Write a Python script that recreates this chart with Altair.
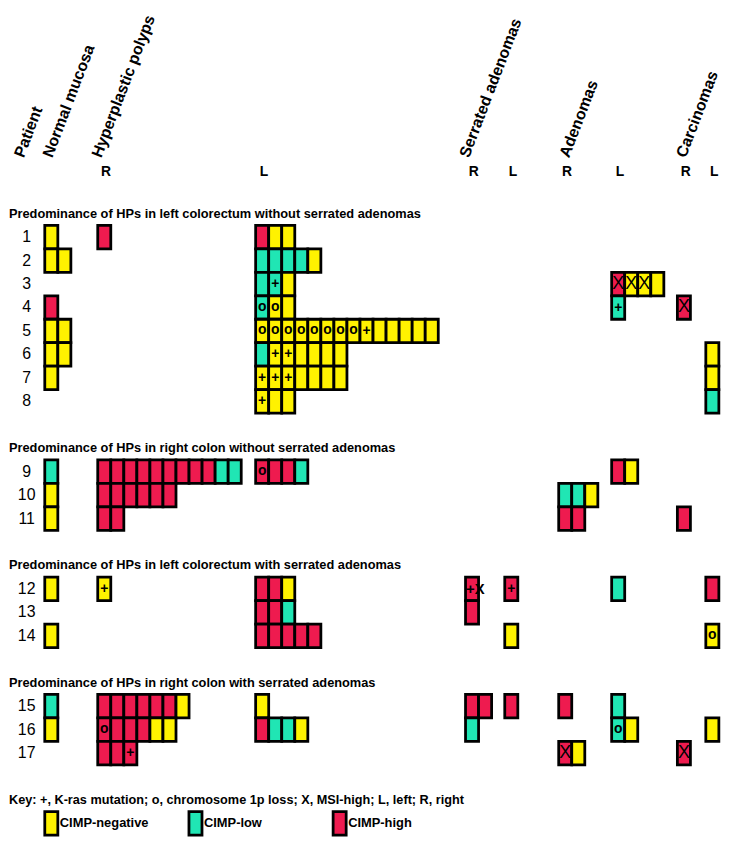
import altair as alt
import pandas as pd

# ---------------- data ----------------
patients = list(range(1, 18))
group_titles = [
    "Predominance of HPs in left colorectum without serrated adenomas",
    "Predominance of HPs in right colon without serrated adenomas",
    "Predominance of HPs in left colorectum with serrated adenomas",
    "Predominance of HPs in right colon with serrated adenomas",
]
group_sizes = [8, 3, 3, 3]
header_texts = ["Patient", "Normal mucosa", "Hyperplastic polyps",
                "Serrated adenomas", "Adenomas", "Carcinomas"]
column_keys = ["NM", "HPR", "HPL", "SAR", "SAL", "ADR", "ADL", "CAR", "CAL"]
side_labels = ["", "R", "L", "R", "L", "R", "L", "R", "L"]
key_text = "Key: +, K-ras mutation; o, chromosome 1p loss; X, MSI-high; L, left; R, right"
status_codes = ["Y", "T", "R"]
status_names = ["CIMP-negative", "CIMP-low", "CIMP-high"]
status_colors = ["#FFF200", "#20E6B4", "#EE1B4F"]

# one string per patient 1..17; token = status code + optional marker(s)
normal_mucosa = ["Y", "Y Y", "", "R", "Y Y", "Y Y", "Y", "", "T", "Y", "Y", "Y", "", "Y", "T", "Y", ""]
hp_right = ["R", "", "", "", "", "", "", "", "R R R R R R R R R T T", "R R R R R R", "R R",
            "Y+", "", "", "R R R R R R Y", "Ro R R R Y Y", "R R R+"]
hp_left = ["R Y Y", "T T T T Y", "T T+ Y", "To Yo Y", "Yo Yo Yo Yo Yo Yo Yo Yo Y+ Y Y Y Y Y",
           "T Y+ Y+ Y Y Y Y", "Y+ Y+ Y+ Y Y Y Y", "Y+ Y Y", "Ro R R T", "", "",
           "R R Y", "R R T", "R R R R R", "Y", "R T T Y", ""]
serrated_right = ["", "", "", "", "", "", "", "", "", "", "", "R+X", "R", "", "R R", "T", ""]
serrated_left = ["", "", "", "", "", "", "", "", "", "", "", "R+", "", "Y", "R", "", ""]
adenoma_right = ["", "", "", "", "", "", "", "", "", "T T Y", "R R", "", "", "", "R", "", "RX Y"]
adenoma_left = ["", "", "RX YX YX Y", "T+", "", "", "", "", "R Y", "", "", "T", "", "", "T", "To Y", ""]
carcinoma_right = ["", "", "", "RX", "", "", "", "", "", "", "R", "", "", "", "", "", "RX"]
carcinoma_left = ["", "", "", "", "", "Y", "Y", "T", "", "", "", "R", "", "Yo", "", "Y", ""]

column_data = [normal_mucosa, hp_right, hp_left, serrated_right, serrated_left,
               adenoma_right, adenoma_left, carcinoma_right, carcinoma_left]

# ---------------- layout (positions in page pixels) ----------------
W, H = 720, 832
X_DOMAIN = [2, 730]
Y_DOMAIN = [3, 851]
CW, PITCH, Y0 = 13.3, 24.1, 235
col_left = [39.5, 93.5, 254.5, 468.5, 508.5, 563.5, 617.5, 684.5, 713.5]
header_x = [18, 47, 97, 472, 574, 693]
header_y = 154
side_y = 168
rownum_x = 21
text_x = 3
legend_box_x = [39.5, 186.5, 333.5]

name_of = dict(zip(status_codes, status_names))

# slots
row_slot = {}
title_slot = []
slot = 0
p = 0
for n in group_sizes:
    title_slot.append(slot - 1)
    for k in range(n):
        row_slot[patients[p]] = slot + k
        p += 1
    slot += n + 2
key_slot = slot - 1
legend_slot = slot


def yc(s):
    return Y0 + s * PITCH


cell_rows, mark_rows = [], []
for ci, col in enumerate(column_data):
    for pi, entry in enumerate(col):
        pat = patients[pi]
        for i, tok in enumerate(entry.split()):
            x = col_left[ci] + i * CW
            y = yc(row_slot[pat])
            cell_rows.append(dict(x=x, x2=x + CW, y=y - PITCH / 2, y2=y + PITCH / 2,
                                  status=name_of[tok[0]]))
            m = tok[1:]
            if m:
                mark_rows.append(dict(x=x + CW / 2, xl=x + 0.5, y=y, m=m))

cells = pd.DataFrame(cell_rows)
marks = pd.DataFrame(mark_rows)

xs = alt.Scale(domain=X_DOMAIN, nice=False, zero=False)
ys = alt.Scale(domain=Y_DOMAIN, nice=False, zero=False, reverse=True)
color = alt.Color("status:N", scale=alt.Scale(domain=status_names, range=status_colors), legend=None)

FONT = "Liberation Sans"
SW = 2.8

rects = alt.Chart(cells).mark_rect(stroke="black", strokeWidth=SW).encode(
    x=alt.X("x:Q", scale=xs, axis=None), x2="x2:Q",
    y=alt.Y("y:Q", scale=ys, axis=None), y2="y2:Q",
    color=color,
)

def marker_layer(df, font_size, weight, align, xfield, dy=0):
    return alt.Chart(df).mark_text(fontSize=font_size, fontWeight=weight, font=FONT,
                                   align=align, baseline="middle", color="black", dy=dy).encode(
        x=alt.X(f"{xfield}:Q", scale=xs, axis=None),
        y=alt.Y("y:Q", scale=ys, axis=None),
        text="m:N",
    )

m_plus = marker_layer(marks[marks.m == "+"], 14, "bold", "center", "x")
m_o = marker_layer(marks[marks.m == "o"], 14, "bold", "center", "x", dy=-1)
m_x = marker_layer(marks[marks.m == "X"], 18, "normal", "center", "x")
m_multi = marker_layer(marks[marks.m.str.len() > 1], 15, "bold", "left", "xl")

headers = pd.DataFrame(dict(t=header_texts, x=header_x, y=[header_y] * len(header_texts)))
header_layer = alt.Chart(headers).mark_text(angle=291, align="left", baseline="alphabetic",
                                            fontSize=16, fontWeight="bold", font=FONT).encode(
    x=alt.X("x:Q", scale=xs, axis=None), y=alt.Y("y:Q", scale=ys, axis=None), text="t:N")

sides = pd.DataFrame(dict(t=side_labels[1:], x=[c + 8.5 for c in col_left[1:]],
                          y=[side_y] * 8))
side_layer = alt.Chart(sides).mark_text(fontSize=14, fontWeight="bold", font=FONT,
                                        baseline="middle").encode(
    x=alt.X("x:Q", scale=xs, axis=None), y=alt.Y("y:Q", scale=ys, axis=None), text="t:N")

titles = pd.DataFrame(dict(t=group_titles, x=[text_x] * 4,
                           y=[yc(s) for s in title_slot]))
title_layer = alt.Chart(titles).mark_text(fontSize=12.9, fontWeight="bold", font=FONT,
                                          align="left", baseline="middle").encode(
    x=alt.X("x:Q", scale=xs, axis=None), y=alt.Y("y:Q", scale=ys, axis=None), text="t:N")

keys = pd.DataFrame(dict(t=[key_text], x=[text_x], y=[yc(key_slot)]))
key_layer = alt.Chart(keys).mark_text(fontSize=12.8, fontWeight="bold", font=FONT,
                                      align="left", baseline="middle").encode(
    x=alt.X("x:Q", scale=xs, axis=None), y=alt.Y("y:Q", scale=ys, axis=None), text="t:N")

rownums = pd.DataFrame(dict(t=[str(p) for p in patients], x=[rownum_x] * 17,
                            y=[yc(row_slot[p]) for p in patients]))
rownum_layer = alt.Chart(rownums).mark_text(fontSize=16, font=FONT, align="center",
                                            baseline="middle").encode(
    x=alt.X("x:Q", scale=xs, axis=None), y=alt.Y("y:Q", scale=ys, axis=None), text="t:N")

ly = yc(legend_slot)
legend_df = pd.DataFrame(dict(status=status_names, x=legend_box_x,
                              x2=[v + CW for v in legend_box_x],
                              y=[ly - PITCH / 2] * 3, y2=[ly + PITCH / 2] * 3,
                              lx=[v + CW + 2 for v in legend_box_x], ym=[ly] * 3))
legend_boxes = alt.Chart(legend_df).mark_rect(stroke="black", strokeWidth=SW).encode(
    x=alt.X("x:Q", scale=xs, axis=None), x2="x2:Q",
    y=alt.Y("y:Q", scale=ys, axis=None), y2="y2:Q", color=color)
legend_text = alt.Chart(legend_df).mark_text(fontSize=13, fontWeight="bold", font=FONT,
                                             align="left", baseline="middle").encode(
    x=alt.X("lx:Q", scale=xs, axis=None), y=alt.Y("ym:Q", scale=ys, axis=None), text="status:N")

chart = alt.layer(rects, m_plus, m_o, m_x, m_multi, header_layer, side_layer,
                  title_layer, key_layer, rownum_layer, legend_boxes, legend_text).properties(
    width=W, height=H, padding=0, autosize="none", background="white"
).configure_view(stroke=None)

chart.save("out.html", embed_options={"renderer": "svg", "actions": False})
